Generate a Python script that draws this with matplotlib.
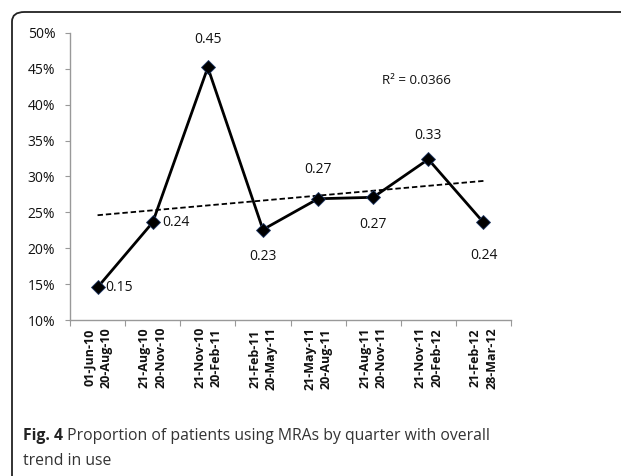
import numpy as np
import matplotlib
matplotlib.use("Agg")
import matplotlib.pyplot as plt
from matplotlib.patches import FancyBboxPatch

# quarters (two-line labels) and proportion of patients on MRAs (%)
quarters = ["01-Jun-10\n20-Aug-10", "21-Aug-10\n20-Nov-10", "21-Nov-10\n20-Feb-11",
            "21-Feb-11\n20-May-11", "21-May-11\n20-Aug-11", "21-Aug-11\n20-Nov-11",
            "21-Nov-11\n20-Feb-12", "21-Feb-12\n28-Mar-12"]
proportion = [14.55, 23.6, 45.2, 22.6, 26.9, 27.1, 32.4, 23.6]
point_labels = ["0.15", "0.24", "0.45", "0.23", "0.27", "0.27", "0.33", "0.24"]
r2_text = "R² = 0.0366"
yticks = [10, 15, 20, 25, 30, 35, 40, 45, 50]
caption_bold = "Fig. 4"
caption_rest = " Proportion of patients using MRAs by quarter with overall"
caption_line2 = "trend in use"

plt.rcParams['font.family'] = ['Open Sans', 'DejaVu Sans']

fig = plt.figure(figsize=(6.21, 4.76), dpi=100)
W, H = 621, 476

# rounded frame around the figure panel (open to the right/bottom)
frame = FancyBboxPatch((12 / W, -10 / H), 900 / W, (H - 12 + 10) / H,
                       boxstyle="round,pad=0,rounding_size=0.02",
                       transform=fig.transFigure, fill=False,
                       edgecolor="#222222", linewidth=1.3)
fig.add_artist(frame)

ax = fig.add_axes([70 / W, 156 / H, (511 - 70) / W, (443 - 156) / H])

x = np.arange(len(proportion))
ax.plot(x, proportion, color="black", linewidth=2, marker="D", markersize=7,
        markerfacecolor="black", markeredgecolor="#203864", markeredgewidth=0.6,
        zorder=3)

# linear trendline
coef = np.polyfit(x, proportion, 1)
ax.plot(x, np.polyval(coef, x), color="black", linestyle=(0, (3, 1.6)),
        linewidth=1.3, zorder=2)

# data labels
offsets = [(8, 0, "left", "center"), (10, 0, "left", "center"),
           (0, 28, "center", "center"), (0, -27, "center", "center"),
           (0, 29, "center", "center"), (0, -27, "center", "center"),
           (0, 24, "center", "center"), (0, -33, "center", "center")]
for xi, yi, lab, (dx, dy, ha, va) in zip(x, proportion, point_labels, offsets):
    ax.annotate(lab, (xi, yi), xytext=(dx, dy), textcoords="offset pixels",
                ha=ha, va=va, fontsize=10, color="#111111")

ax.text(5.79, 43.4, r2_text, ha="center", va="center", fontsize=9.6,
        color="#111111")

ax.set_xlim(-0.5, len(proportion) - 0.5)
ax.set_ylim(10, 50)
ax.set_yticks(yticks)
ax.set_yticklabels([f"{v}%" for v in yticks], fontsize=10, color="#111111")

ax.set_xticks(np.arange(len(proportion) + 1) - 0.5)
ax.set_xticklabels([])
ax.set_xticks(x, minor=True)
ax.set_xticklabels(quarters, minor=True, rotation=90, fontsize=9,
                   fontweight="bold", color="#111111", va="top", ha="center",
                   linespacing=1.35)

ax.tick_params(axis="x", which="major", length=4, color="#999999", direction="out")
ax.tick_params(axis="x", which="minor", length=0, pad=5)
ax.tick_params(axis="y", length=3.6, color="#999999", pad=7)

for s in ["top", "right"]:
    ax.spines[s].set_visible(False)
for s in ["left", "bottom"]:
    ax.spines[s].set_color("#999999")
    ax.spines[s].set_linewidth(1)

# caption
t1 = fig.text(23 / W, (H - 444) / H, caption_bold, fontsize=11.3,
              fontweight="bold", color="#222222", va="bottom")
ax.annotate(caption_rest, xy=(1, 0), xycoords=t1, va="bottom", ha="left",
            fontsize=11.3, color="#333333")
fig.text(23 / W, (H - 469) / H, caption_line2, fontsize=11.3,
         color="#333333", va="bottom")

fig.savefig("out.png", dpi=100)
